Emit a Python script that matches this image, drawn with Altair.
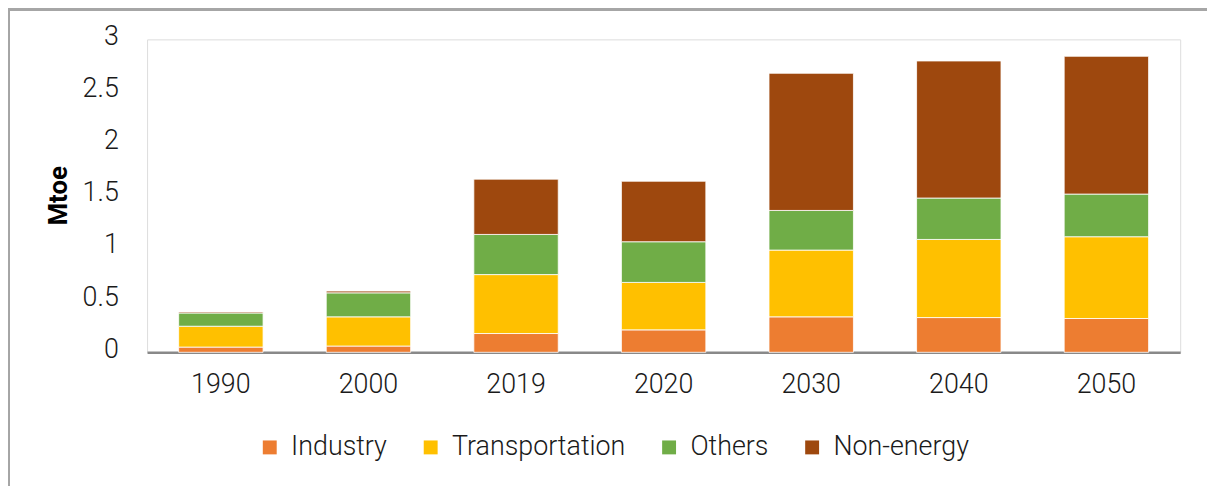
import altair as alt
import pandas as pd

years = ["1990", "2000", "2019", "2020", "2030", "2040", "2050"]
sectors = ["Industry", "Transportation", "Others", "Non-energy"]
colors = ["#ED7D31", "#FFC000", "#70AD47", "#9E480E"]

industry = [0.05, 0.06, 0.18, 0.215, 0.34, 0.333, 0.324]
transportation = [0.20, 0.28, 0.565, 0.455, 0.64, 0.749, 0.784]
others = [0.127, 0.23, 0.385, 0.39, 0.38, 0.397, 0.409]
non_energy = [0.01, 0.017, 0.53, 0.58, 1.315, 1.314, 1.321]

series = [industry, transportation, others, non_energy]
rows = []
for si, (name, vals) in enumerate(zip(sectors, series)):
    for y, v in zip(years, vals):
        rows.append({"Year": y, "Sector": name, "Value": v, "order": si})
df = pd.DataFrame(rows)

FONT = "Roboto"
FS = 27

bars = alt.Chart(df).mark_bar(stroke="white", strokeWidth=0.8).encode(
    x=alt.X("Year:N", sort=years,
            scale=alt.Scale(paddingInner=0.428, paddingOuter=0.214),
            axis=alt.Axis(title=None, labelAngle=0, ticks=False, domain=True,
                          domainColor="#898989", domainWidth=2.5,
                          labelFontSize=FS, labelFont=FONT, labelFontWeight=300,
                          labelColor="#1a1a1a", labelPadding=19)),
    y=alt.Y("Value:Q", stack="zero",
            scale=alt.Scale(domain=[0, 3], nice=False),
            axis=alt.Axis(title="Mtoe", values=[0, 0.5, 1, 1.5, 2, 2.5, 3], format="~g",
                          grid=False, ticks=False, domain=False,
                          labelFontSize=FS, labelFont=FONT, labelFontWeight=300,
                          labelColor="#1a1a1a", labelPadding=29, labelOffset=-3,
                          titleFont=FONT, titleFontSize=26, titleFontWeight="bold",
                          titleColor="#000000", titleAngle=270, titleX=-89, titleY=157,
                          titleAlign="center", titleBaseline="middle")),
    color=alt.Color("Sector:N", sort=sectors,
                    scale=alt.Scale(domain=sectors, range=colors),
                    legend=alt.Legend(title=None, orient="none", legendX=110, legendY=397,
                                      direction="horizontal", symbolType="square",
                                      symbolSize=196, symbolStrokeWidth=0,
                                      labelFontSize=FS, labelFont=FONT, labelFontWeight=300,
                                      labelColor="#1a1a1a", labelLimit=400,
                                      labelOffset=8, columnPadding=30)),
    order=alt.Order("order:Q", sort="ascending"),
)

frame_top = alt.Chart(df).mark_rule(color="#a6a6a6", strokeWidth=3).encode(
    x=alt.value(-140), x2=alt.value(1070), y=alt.value(-30)
)
frame_left = alt.Chart(df).mark_rule(color="#a6a6a6", strokeWidth=3).encode(
    x=alt.value(-140), y=alt.value(-30), y2=alt.value(450)
)

chart = alt.layer(frame_top, frame_left, bars).properties(
    width=1040, height=315,
    padding={"left": 140, "top": 30, "right": 27, "bottom": 133},
    autosize=alt.AutoSizeParams(type="none"),
).configure_view(stroke="#d9d9d9", strokeWidth=2).configure(background="white")

chart.save("out.html", embed_options={"renderer": "svg", "actions": False})
